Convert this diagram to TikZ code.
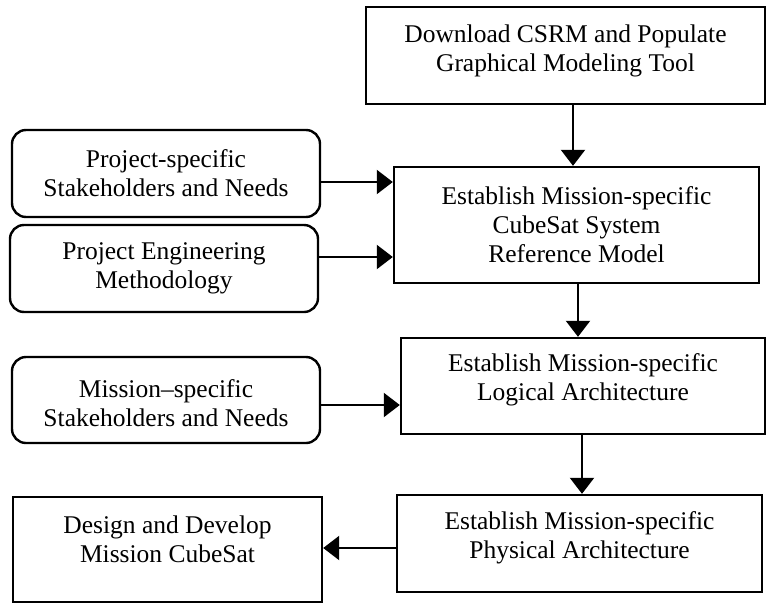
\documentclass[tikz,border=0pt]{standalone}
\usepackage{fontspec}
\setmainfont{Liberation Serif}
\usetikzlibrary{arrows.meta}
\begin{document}
\begin{tikzpicture}[x=1pt,y=-1pt,
  stepbox/.style={draw, line width=2.4pt, inner sep=0pt},
  roundbox/.style={stepbox, rounded corners=14pt},
  txt/.style={font=\fontsize{25.5}{29}\selectfont, align=center, inner sep=0pt},
  arr/.style={line width=2.2pt, -{Triangle[length=16pt,width=24pt]}}
]
\useasboundingbox (0,0) rectangle (766,603);

% process boxes
\node[stepbox, minimum width=399pt, minimum height=97pt]  (dl)   at (565.5,55.5)  {};
\node[stepbox, minimum width=365pt, minimum height=116pt] (csrm) at (576.5,225)   {};
\node[stepbox, minimum width=364pt, minimum height=96pt]  (log)  at (583,386)     {};
\node[stepbox, minimum width=365pt, minimum height=97pt]  (phy)  at (579.5,543.5) {};
\node[stepbox, minimum width=309pt, minimum height=105pt] (dd)   at (167.5,549.5) {};

% input boxes
\node[roundbox, minimum width=308pt, minimum height=87pt] (psn) at (166,173.5) {};
\node[roundbox, minimum width=308pt, minimum height=87pt] (pem) at (164,268.5) {};
\node[roundbox, minimum width=308pt, minimum height=86pt] (msn) at (166,400)   {};

% labels
\node[txt] (tdl)   at ([yshift=5pt]dl.center)   {Download CSRM and Populate\\Graphical Modeling Tool};
\node[txt] (tcsrm) at (csrm.center)             {Establish Mission-specific\\CubeSat System\\Reference Model};
\node[txt] (tlog)  at ([yshift=6pt]log.center)  {Establish Mission-specific\\Logical Architecture};
\node[txt] (tphy)  at ([yshift=6pt]phy.center)  {Establish Mission-specific\\Physical Architecture};
\node[txt] (tdd)   at ([yshift=10pt]dd.center)  {Design and Develop\\Mission CubeSat};
\node[txt] (tpsn)  at (psn.center)              {Project-specific\\Stakeholders and Needs};
\node[txt] (tpem)  at (pem.center)              {Project Engineering\\Methodology};
\node[txt] (tmsn)  at ([yshift=-3pt]msn.center) {Mission--specific\\Stakeholders and Needs};

% connector rows and columns
\coordinate (c1) at (573,0);
\coordinate (c2) at (578,0);
\coordinate (c3) at (582,0);
\coordinate (r1) at (0,182);
\coordinate (r2) at (0,257);
\coordinate (r3) at (0,405);
\coordinate (r4) at (0,548);

\draw[arr] (dl.south -| c1)   -- (csrm.north -| c1);
\draw[arr] (psn.east |- r1)   -- (csrm.west |- r1);
\draw[arr] (pem.east |- r2)   -- (csrm.west |- r2);
\draw[arr] (csrm.south -| c2) -- (log.north -| c2);
\draw[arr] (msn.east |- r3)   -- (log.west |- r3);
\draw[arr] (log.south -| c3)  -- (phy.north -| c3);
\draw[arr] (phy.west |- r4)   -- (dd.east |- r4);
\end{tikzpicture}
\end{document}
